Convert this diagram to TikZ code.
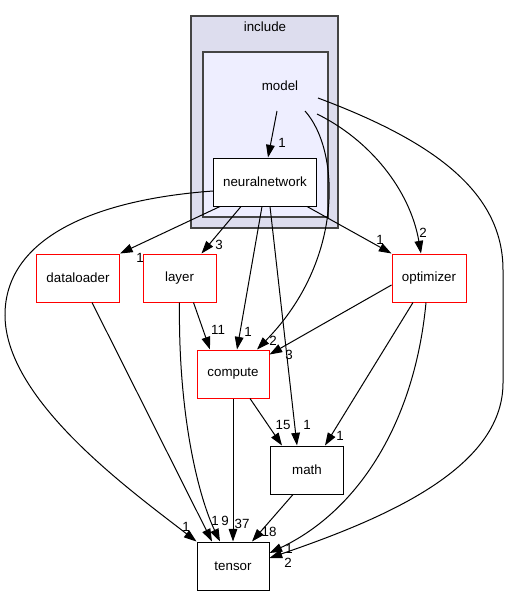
\documentclass[tikz,border=0pt]{standalone}
\usepackage{fontspec}
\setmainfont{Liberation Sans}
\usetikzlibrary{arrows.meta,calc}
\definecolor{incfill}{HTML}{DDDDEE}
\definecolor{modfill}{HTML}{EEEEFF}
\definecolor{clborder}{HTML}{444444}
\tikzset{
  dirbox/.style={draw, fill=white, minimum height=36pt, minimum width=54pt, inner sep=0pt,
    font=\fontsize{10}{12}\selectfont, line width=0.75pt},
  reddir/.style={dirbox, draw=red},
  dep/.style={-{Triangle[length=9.5pt,width=6.5pt]}, line width=0.75pt},
  lbl/.style={font=\fontsize{10}{12}\selectfont, inner sep=0pt},
}
\begin{document}
\begin{tikzpicture}[x=0.75pt, y=-0.75pt]
  \useasboundingbox (0,0) rectangle (509,596);
  % clusters
  \draw[fill=incfill, draw=clborder, line width=0.9pt] (191,16) rectangle (338,228);
  \node[lbl] (include) at (265,27) {include};
  \draw[fill=modfill, draw=clborder, line width=0.9pt] (203,52) rectangle (328,217);
  \node[lbl] (model) at (280,86) {model};
  \coordinate (m1) at (277,111);
  \coordinate (m2) at (305,111);
  \coordinate (m3) at (317,114);
  \coordinate (m4) at (318,98);
  % directories
  \node[dirbox, minimum width=77.25pt] (nn) at (265,182) {neuralnetwork};
  \node[reddir, minimum width=62.25pt] (dataloader) at (78,278) {dataloader};
  \node[reddir, minimum width=54.75pt] (layer) at (179.5,278) {layer};
  \node[reddir, minimum width=55.5pt] (optimizer) at (429,278) {optimizer};
  \node[reddir] (compute) at (233,374) {compute};
  \node[dirbox, minimum width=54.75pt] (math) at (307,470) {math};
  \node[dirbox] (tensor) at (233,566) {tensor};
  % dependencies
  \draw[dep] (m1) -- ($(nn.north)+(3,0)$) node[lbl] (l1) at (282,143) {1};
  \draw[dep] (m2) .. controls (340,150) and (345,260) .. ($(compute.north)+(24,0)$)
    node[lbl] (l2) at (273,341) {2};
  \draw[dep] (m3) .. controls (370,140) and (410,190) .. ($(optimizer.north)+(-8,0)$)
    node[lbl] (l3) at (423,233) {2};
  \draw[dep] (m4) .. controls (430,140) and (503,190) .. (503,270) -- (503,383)
    .. controls (503,470) and (380,520) .. ($(tensor.east)+(0,-8)$)
    node[lbl] (l4) at (288,563) {2};
  \draw[dep] ($(nn.west)+(0,9)$) .. controls (90,200) and (5,240) .. (5,315)
    .. controls (5,400) and (130,490) .. (tensor.north west)
    node[lbl] (l5) at (186,527) {1};
  \draw[dep] ($(nn.south)+(-45,0)$) -- (dataloader.north east) node[lbl] (l6) at (140,258) {1};
  \draw[dep] ($(nn.south)+(-24,0)$) -- ($(layer.north)+(22,0)$) node[lbl] (l7) at (219,245) {3};
  \draw[dep] ($(nn.south)+(-3,0)$) -- ($(compute.north)+(4,0)$) node[lbl] (l8) at (248,332) {1};
  \draw[dep] ($(nn.south)+(5,0)$) -- ($(math.north)+(-10,0)$) node[lbl] (l9) at (307,425) {1};
  \draw[dep] ($(nn.south)+(42,0)$) -- (optimizer.north west) node[lbl] (l10) at (380,240) {1};
  \draw[dep] ($(layer.south)+(14,0)$) -- ($(compute.north)+(-23,0)$) node[lbl] (l11) at (218,330) {11};
  \draw[dep] (layer.south) .. controls (178,420) and (200,500) .. ($(tensor.north)+(-13,0)$)
    node[lbl] (l12) at (225,521) {9};
  \draw[dep] ($(dataloader.south)+(14,0)$) -- ($(tensor.north)+(-21,0)$) node[lbl] (l13) at (215,521) {1};
  \draw[dep] (compute.south) -- (tensor.north) node[lbl] (l14) at (242,524) {37};
  \draw[dep] ($(compute.south)+(17,0)$) -- ($(math.north)+(-25,0)$) node[lbl] (l15) at (283,425) {15};
  \draw[dep] ($(math.south)+(-14,0)$) -- ($(tensor.north)+(19,0)$) node[lbl] (l16) at (269,532) {18};
  \draw[dep] ($(optimizer.west)+(0,7)$) -- ($(compute.north east)+(0,5)$) node[lbl] (l17) at (289,355) {3};
  \draw[dep] ($(optimizer.south)+(-16,0)$) -- ($(math.north)+(18,0)$) node[lbl] (l18) at (340,436) {1};
  \draw[dep] ($(optimizer.south)+(-3,0)$) .. controls (415,420) and (360,510) .. ($(tensor.east)+(0,-13)$)
    node[lbl] (l19) at (289,549) {1};
\end{tikzpicture}
\end{document}
